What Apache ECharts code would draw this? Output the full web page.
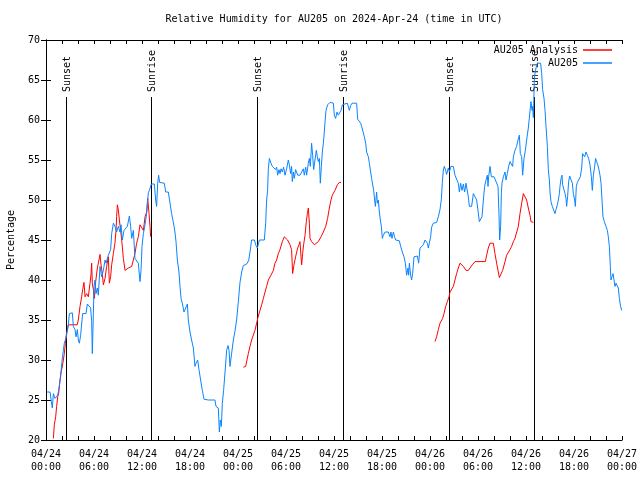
<!DOCTYPE html>
<html><head><meta charset="utf-8">
<script src="https://cdn.jsdelivr.net/npm/echarts@6/dist/echarts.min.js"></script>
<style>html,body{margin:0;padding:0;background:#fff}#c{width:640px;height:480px}</style>
</head><body><div id="c"></div>
<script>
const titleText = 'Relative Humidity for AU205 on 2024-Apr-24 (time in UTC)';
const yAxisName = 'Percentage';
const xTickLabels = ['04/24\n00:00','04/24\n06:00','04/24\n12:00','04/24\n18:00',
  '04/25\n00:00','04/25\n06:00','04/25\n12:00','04/25\n18:00',
  '04/26\n00:00','04/26\n06:00','04/26\n12:00','04/26\n18:00','04/27\n00:00'];
const seriesNames = ['AU205 Analysis', 'AU205'];

// hours since 2024-04-24 00:00 UTC
const eventT = [2.5, 13.15, 26.42, 37.17, 50.42, 61.04];
const eventLabels = ['Sunset','Sunrise','Sunset','Sunrise','Sunset','Sunrise'];

const blueT = [0.1,0.5,0.67,0.79,0.92,1.12,1.33,1.46,1.58,1.71,1.83,1.92,2.04,2.17,2.29,2.42,2.54,2.79,2.92,3.29,3.42,3.63,3.75,3.92,4.04,4.17,4.33,4.58,4.75,5.0,5.17,5.42,5.58,5.71,5.79,5.92,6.0,6.13,6.25,6.42,6.54,6.75,6.96,7.17,7.38,7.5,7.79,8.08,8.21,8.42,8.62,8.83,9.04,9.25,9.38,9.54,9.75,9.96,10.17,10.42,10.58,10.71,10.92,11.12,11.33,11.54,11.75,11.88,12.0,12.17,12.38,12.58,12.79,12.92,13.17,13.54,13.71,13.83,13.96,14.08,14.2,14.79,14.96,15.29,15.5,15.7,15.9,16.12,16.25,16.42,16.62,16.75,16.88,17.04,17.25,17.46,17.67,17.79,18.0,18.2,18.42,18.62,18.75,18.96,19.12,19.33,19.54,19.75,20.29,21.12,21.25,21.54,21.67,21.79,21.92,22.04,22.2,22.38,22.58,22.75,22.88,23.0,23.2,23.42,23.62,23.83,24.04,24.25,24.46,24.67,25.08,25.33,25.5,25.7,26.04,26.25,26.42,26.67,27.29,27.46,27.58,27.7,27.79,27.92,28.12,28.29,28.54,28.7,28.83,28.96,29.12,29.25,29.38,29.54,29.7,29.88,30.08,30.29,30.42,30.58,30.7,30.79,30.92,31.04,31.2,31.46,31.75,31.96,32.17,32.29,32.46,32.58,32.79,32.92,33.04,33.2,33.33,33.46,33.62,33.79,33.92,34.04,34.17,34.29,34.42,34.54,34.67,34.79,34.88,35.0,35.2,35.5,35.7,35.92,36.04,36.2,36.38,36.54,36.7,36.88,37.04,37.2,37.67,37.92,38.08,38.25,38.83,38.96,39.17,39.33,39.46,39.67,39.79,39.96,40.08,40.29,40.42,40.58,40.7,40.83,40.96,41.08,41.17,41.33,41.42,41.54,41.67,41.79,41.92,42.04,42.17,42.38,42.79,43.0,43.12,43.25,43.42,43.58,43.7,44.17,44.33,44.54,44.75,44.92,45.08,45.25,45.33,45.42,45.58,45.7,45.83,46.0,46.12,46.42,46.58,46.75,46.96,47.17,47.38,47.5,47.67,47.79,47.92,48.08,48.2,48.42,48.83,49.04,49.25,49.42,49.54,49.67,49.79,49.96,50.08,50.29,50.42,50.62,50.92,51.12,51.33,51.54,51.67,51.83,52.0,52.17,52.33,52.5,52.67,52.79,52.92,53.2,53.42,53.62,53.83,53.96,54.17,54.33,54.5,54.67,54.83,55.0,55.17,55.25,55.33,55.5,55.67,55.83,56.0,56.17,56.33,56.5,56.62,56.71,56.83,56.92,57.0,57.17,57.38,57.5,57.67,57.83,58.0,58.2,58.33,58.42,58.62,58.83,59.0,59.17,59.29,59.46,59.58,59.75,59.92,60.08,60.29,60.5,60.62,60.75,60.83,60.92,61.04,61.12,61.25,61.42,61.54,61.67,61.83,61.96,62.08,62.25,62.38,62.5,62.67,62.79,62.92,63.0,63.12,63.29,63.5,63.62,63.75,63.92,64.04,64.17,64.25,64.38,64.5,64.58,64.75,64.88,65.0,65.08,65.2,65.33,65.46,65.67,65.79,65.92,66.08,66.17,66.29,66.42,66.62,66.79,66.96,67.08,67.2,67.33,67.5,67.67,67.83,68.0,68.17,68.29,68.42,68.58,68.7,68.83,68.96,69.08,69.25,69.38,69.5,69.62,69.79,70.0,70.17,70.29,70.42,70.54,70.62,70.75,70.88,71.0,71.12,71.25,71.42,71.54,71.67,71.83,71.96];
const blueV = [26.0,26.0,24.8,24.0,25.8,25.2,25.0,25.6,26.2,27.1,27.9,29.0,30.2,31.2,32.1,32.5,32.9,34.4,35.8,35.9,34.2,33.8,32.9,33.8,32.5,32.1,33.1,35.8,36.0,35.8,37.0,37.0,36.5,34.8,30.8,35.8,39.2,40.0,38.3,39.0,38.1,41.7,40.4,41.2,42.5,42.1,43.1,43.8,45.8,47.1,46.7,46.0,46.7,46.0,46.9,45.0,46.2,46.0,46.7,48.0,46.7,45.2,46.2,42.7,42.9,42.1,39.8,41.2,44.2,45.8,46.9,48.3,50.9,51.2,52.0,52.0,50.0,49.2,52.1,53.1,52.2,52.1,51.0,51.0,49.6,48.3,47.3,46.0,44.8,42.5,41.0,39.2,37.7,37.1,36.0,36.5,37.0,35.0,33.5,32.5,31.5,29.2,29.6,30.0,28.8,27.5,26.2,25.1,25.0,25.0,24.2,24.0,21.0,22.5,21.7,24.6,26.2,28.5,31.2,31.8,31.2,29.2,30.8,32.5,33.6,35.0,37.3,39.7,41.0,41.8,42.0,42.4,43.5,45.0,45.0,44.3,44.0,45.0,45.0,47.1,50.0,51.2,53.8,55.2,54.6,54.2,54.2,53.8,54.1,53.1,53.8,53.3,53.9,53.5,54.1,53.1,53.9,55.0,54.4,53.3,54.2,52.3,53.5,52.7,53.8,53.1,53.1,53.5,53.9,53.1,54.1,53.1,54.6,55.2,54.2,57.1,55.6,53.8,55.0,56.2,55.4,54.8,55.2,52.1,54.2,56.0,57.1,58.5,59.8,61.2,61.9,62.2,62.3,62.1,60.6,60.2,61.0,60.6,60.4,61.2,61.9,62.1,62.1,61.2,61.8,62.1,62.1,60.1,60.0,59.6,59.2,59.0,57.9,57.1,56.0,55.4,54.6,53.5,52.7,52.5,51.2,50.0,49.2,51.0,49.6,50.0,48.5,47.5,46.7,45.2,45.6,46.0,46.0,45.4,46.0,45.2,46.0,45.4,45.0,44.9,44.2,43.5,42.9,42.1,40.6,41.5,40.6,42.1,40.6,40.0,40.8,42.9,43.0,43.0,42.1,44.0,44.0,44.4,45.0,45.1,44.6,44.0,44.6,45.4,46.6,47.1,47.2,47.9,48.8,50.1,52.2,53.75,54.2,53.7,53.2,54.0,53.5,54.2,54.2,53.1,53.1,52.1,51.0,52.1,51.2,52.0,51.0,52.1,52.1,50.4,49.2,49.2,50.8,50.4,50.0,49.0,47.3,47.1,47.9,50.0,51.7,52.5,53.1,51.7,52.9,54.2,52.9,53.1,52.9,52.5,52.3,51.7,48.3,45.0,46.7,50.8,52.1,52.9,53.5,52.5,53.3,54.2,54.8,55.0,54.2,55.4,56.2,56.7,57.5,58.1,55.8,55.4,53.1,55.2,56.2,57.5,59.0,59.2,62.3,61.2,61.7,60.3,65.0,65.8,66.5,67.1,66.9,67.3,67.1,65.8,63.8,62.7,61.2,59.2,56.7,53.8,52.5,51.0,49.8,49.2,49.0,48.3,48.8,49.4,50.0,50.8,51.7,52.7,53.1,51.9,51.7,50.8,50.2,49.2,50.4,52.3,53.0,53.0,52.1,50.8,50.0,49.2,51.7,52.2,52.3,52.9,54.0,55.8,56.0,55.4,56.0,55.6,55.2,54.4,52.9,51.2,53.1,54.2,55.2,54.8,54.4,54.0,53.1,52.1,50.0,47.9,47.3,46.7,46.2,45.4,44.2,41.7,40.0,40.4,40.8,40.0,39.2,39.6,39.8,39.0,37.7,36.7,36.2];

// null marks a gap between analysis segments
const redT = [0.92,1.04,1.21,1.33,1.46,1.58,1.75,1.88,2.0,2.17,2.29,2.42,2.54,2.67,2.79,3.9,4.04,4.25,4.46,4.58,4.75,4.88,5.08,5.29,5.5,5.62,5.71,5.79,5.92,6.04,6.21,6.42,6.62,6.75,6.88,7.04,7.17,7.38,7.58,7.79,7.92,8.08,8.21,8.42,8.62,8.75,8.83,8.92,9.04,9.17,9.33,9.5,9.67,9.88,10.29,10.71,10.92,11.12,11.33,11.54,11.75,11.96,12.17,12.38,12.58,12.71,12.88,13.0,13.08,
  18,
  24.67,24.96,25.12,25.29,25.5,25.7,25.92,26.12,26.33,26.54,26.75,26.96,27.17,27.38,27.58,27.79,28.12,28.42,28.62,28.83,29.04,29.25,29.54,29.79,29.96,30.2,30.5,30.7,30.83,30.96,31.2,31.46,31.62,31.75,31.88,31.96,32.08,32.2,32.38,32.54,32.67,32.79,32.92,33.0,33.2,33.54,33.75,34.04,34.38,34.67,34.96,35.2,35.42,35.62,35.79,36.12,36.42,36.67,36.88,
  42,
  48.62,48.83,49.04,49.25,49.58,49.75,49.96,50.17,50.38,50.5,50.7,50.92,51.12,51.33,51.54,51.75,51.96,52.17,52.5,52.79,53.0,53.29,53.62,54.92,55.08,55.29,55.5,55.7,55.92,56.12,56.33,56.54,56.67,56.88,57.08,57.38,57.58,57.79,58.0,58.2,58.42,58.62,58.83,59.04,59.25,59.46,59.67,59.88,60.08,60.29,60.5,60.62,60.92];
const redV = [20.2,21.9,22.9,24.2,25.4,25.8,27.5,28.5,29.0,30.0,30.8,32.1,33.2,33.8,34.4,34.4,35.0,36.7,37.9,38.8,39.7,37.9,38.3,37.9,39.6,40.6,42.1,39.6,38.8,37.7,39.8,41.5,42.5,43.2,41.9,40.8,39.4,40.2,41.7,42.9,39.6,40.4,41.9,43.3,44.6,46.2,47.9,49.4,48.8,47.5,46.2,44.6,42.7,41.2,41.5,41.7,41.9,43.3,44.6,45.4,46.9,46.7,46.2,47.9,48.5,50.2,48.3,46.7,45.4,
  null,
  29.1,29.2,30.0,30.8,31.7,32.5,32.7,33.7,34.6,35.5,36.2,36.9,37.7,38.5,39.2,40.0,40.6,41.2,42.1,42.5,43.3,43.8,44.8,45.4,45.5,45.0,44.4,43.8,40.8,41.7,42.9,44.0,44.4,44.8,42.9,41.9,43.3,44.4,45.6,47.3,48.3,49.0,47.1,45.2,44.8,44.4,44.2,44.8,45.4,46.0,46.7,47.7,49.0,50.0,50.6,51.2,51.9,52.2,52.2,
  null,
  32.3,32.9,33.8,34.6,35.2,35.8,36.7,37.3,37.9,38.5,38.7,39.2,40.0,40.8,41.5,42.1,42.0,41.7,41.2,41.2,41.5,41.9,42.3,42.3,43.1,44.0,44.6,44.8,44.6,43.3,42.1,41.0,40.3,40.4,41.2,42.3,43.1,43.3,43.8,44.2,44.8,45.2,45.4,46.7,48.3,49.6,50.8,50.8,50.0,49.0,48.1,47.3,47.2];

const FONT = 'DejaVu Sans Mono';
const Y_MIN = 20, Y_MAX = 70, EVENT_TOP = 62.875;

const blueData = blueT.map((t, i) => [t, blueV[i]]);
const redData = redT.map((t, i) => [t, redV[i] === null ? '-' : redV[i]]);
const eventData = eventT.map(t => [t]);

const chart = echarts.init(document.getElementById('c'), null, {renderer: 'canvas'});

const baseX = {
  type: 'value', min: 0, max: 72, interval: 6,
  axisLine: {show: true, lineStyle: {color: '#000', width: 1}},
  axisTick: {show: true, inside: true, length: 4, lineStyle: {color: '#000'}},
  minorTick: {show: true, splitNumber: 3, length: 4, lineStyle: {color: '#000'}},
  splitLine: {show: false}, minorSplitLine: {show: false}
};
const baseY = {
  type: 'value', min: Y_MIN, max: Y_MAX, interval: 5,
  axisLine: {show: true, lineStyle: {color: '#000', width: 1}},
  axisTick: {show: true, inside: true, length: 5, lineStyle: {color: '#000'}},
  splitLine: {show: false}
};

chart.setOption({
  animation: false,
  backgroundColor: '#fff',
  title: {
    text: titleText, left: 334, top: 14, textAlign: 'center', padding: 0,
    textStyle: {fontFamily: FONT, fontSize: 10, fontWeight: 'normal', color: '#000'}
  },
  legend: {
    data: seriesNames, orient: 'vertical', right: 28, top: 45, align: 'right',
    icon: 'rect', itemWidth: 29, itemHeight: 1.5, itemGap: 3, padding: 0,
    textStyle: {fontFamily: FONT, fontSize: 10, color: '#000', lineHeight: 10}
  },
  grid: {left: 46, right: 18, top: 40, bottom: 40, outerBoundsMode: 'none', containLabel: false},
  xAxis: [
    Object.assign({}, baseX, {
      position: 'bottom',
      axisLabel: {
        show: true, margin: 8, color: '#000', fontFamily: FONT, fontSize: 10, lineHeight: 13,
        formatter: v => xTickLabels[Math.round(v / 6)]
      }
    }),
    Object.assign({}, baseX, {position: 'top', axisLabel: {show: false}})
  ],
  yAxis: [
    Object.assign({}, baseY, {
      position: 'left',
      name: yAxisName, nameLocation: 'middle', nameGap: 30,
      nameTextStyle: {fontFamily: FONT, fontSize: 10, color: '#000'},
      axisLabel: {show: true, margin: 6, color: '#000', fontFamily: FONT, fontSize: 10}
    }),
    Object.assign({}, baseY, {position: 'right', axisLabel: {show: false}})
  ],
  series: [
    {
      type: 'custom', name: 'events', silent: true, z: 1,
      xAxisIndex: 0, yAxisIndex: 0,
      data: eventData,
      renderItem: function (params, api) {
        const t = api.value(0);
        const p0 = api.coord([t, Y_MIN]);
        const p1 = api.coord([t, EVENT_TOP]);
        const x = Math.round(p0[0]) + 0.5;
        return {
          type: 'group',
          children: [
            {type: 'line', shape: {x1: x, y1: p0[1], x2: x, y2: p1[1]},
             style: {stroke: '#000', lineWidth: 1}},
            {type: 'text', x: x + 1, y: p1[1] - 5, rotation: Math.PI / 2,
             style: {text: eventLabels[params.dataIndex], fontFamily: FONT, fontSize: 10,
                     fill: '#000', align: 'left', verticalAlign: 'middle'}}
          ]
        };
      }
    },
    {
      type: 'line', name: seriesNames[0], data: redData, color: '#ff0000',
      showSymbol: false, symbol: 'none', connectNulls: false, z: 2,
      lineStyle: {color: '#ff0000', width: 1}
    },
    {
      type: 'line', name: seriesNames[1], data: blueData, color: '#0a84ff',
      showSymbol: false, symbol: 'none', z: 3,
      lineStyle: {color: '#0a84ff', width: 1}
    }
  ]
});
</script>
</body></html>
